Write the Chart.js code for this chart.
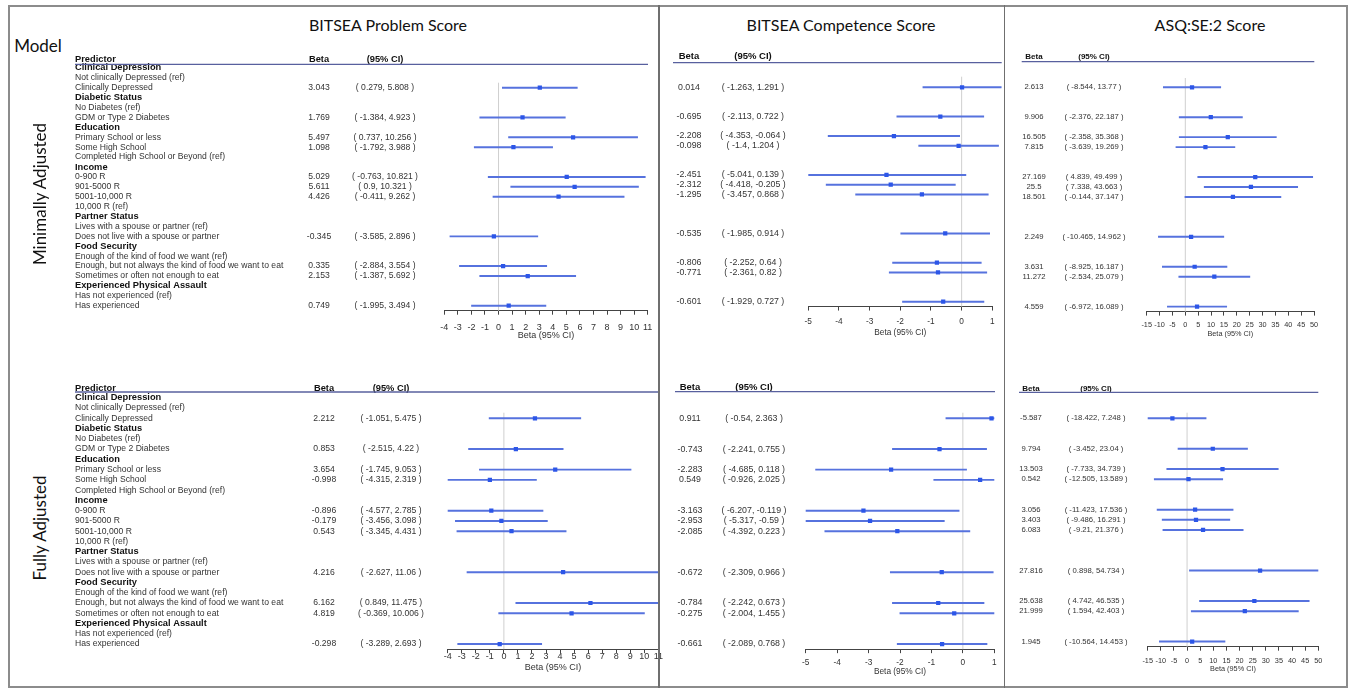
<!DOCTYPE html>
<html>
<head>
<meta charset="utf-8">
<script src="https://cdn.jsdelivr.net/npm/chart.js@4.4.1/dist/chart.umd.min.js"></script>
<style>
  body { margin: 0; background: #fff; }
  #page { position: relative; width: 1352px; height: 689px; overflow: hidden; background: #fff; }
  canvas { position: absolute; }
  .frame { position: absolute; left: 8px; top: 5px; width: 1340px; height: 683px; border: 2px solid #8c8c8c; box-sizing: border-box; }
  .sep { position: absolute; top: 5px; height: 683px; width: 1.5px; background: #6f6f6f; }
  .title { position: absolute; font-family: Lato, "Open Sans", sans-serif; font-size: 16px; color: #111; transform: translate(-50%, -50%); white-space: nowrap; }
  .side { position: absolute; font-family: Lato, "Open Sans", sans-serif; font-size: 17px; color: #111; transform: translate(-50%, -50%) rotate(-90deg); white-space: nowrap; }
</style>
</head>
<body>
<div id="page">
  <div class="title" style="left:388px; top:24px">BITSEA Problem Score</div>
  <div class="title" style="left:841px; top:24px">BITSEA Competence Score</div>
  <div class="title" style="left:1210px; top:24px">ASQ:SE:2 Score</div>
  <div class="side" style="left:38px; top:45px; transform: translate(-50%, -50%)">Model</div>
  <div class="side" style="left:39px; top:194px">Minimally Adjusted</div>
  <div class="side" style="left:39px; top:528px">Fully Adjusted</div>
</div>
<script>
// rows of the predictor table (same in every panel)
const rowLabels = [
  "Clinical Depression", "Not clinically Depressed (ref)", "Clinically Depressed",
  "Diabetic Status", "No Diabetes (ref)", "GDM or Type 2 Diabetes",
  "Education", "Primary School or less", "Some High School", "Completed High School or Beyond (ref)",
  "Income", "0-900 R", "901-5000 R", "5001-10,000 R", "10,000 R (ref)",
  "Partner Status", "Lives with a spouse or partner (ref)", "Does not live with a spouse or partner",
  "Food Security", "Enough of the kind of food we want (ref)",
  "Enough, but not always the kind of food we want to eat", "Sometimes or often not enough to eat",
  "Experienced Physical Assault", "Has not experienced (ref)", "Has experienced"
];
const groupHeaders = ["Clinical Depression", "Diabetic Status", "Education", "Income",
  "Partner Status", "Food Security", "Experienced Physical Assault"];
const estimateRows = ["Clinically Depressed", "GDM or Type 2 Diabetes", "Primary School or less",
  "Some High School", "0-900 R", "901-5000 R", "5001-10,000 R",
  "Does not live with a spouse or partner",
  "Enough, but not always the kind of food we want to eat",
  "Sometimes or often not enough to eat", "Has experienced"];

// Minimally adjusted
const probMinBeta = [3.043, 1.769, 5.497, 1.098, 5.029, 5.611, 4.426, -0.345, 0.335, 2.153, 0.749];
const probMinLow = [0.279, -1.384, 0.737, -1.792, -0.763, 0.9, -0.411, -3.585, -2.884, -1.387, -1.995];
const probMinHigh = [5.808, 4.923, 10.256, 3.988, 10.821, 10.321, 9.262, 2.896, 3.554, 5.692, 3.494];

const compMinBeta = [0.014, -0.695, -2.208, -0.098, -2.451, -2.312, -1.295, -0.535, -0.806, -0.771, -0.601];
const compMinLow = [-1.263, -2.113, -4.353, -1.4, -5.041, -4.418, -3.457, -1.985, -2.252, -2.361, -1.929];
const compMinHigh = [1.291, 0.722, -0.064, 1.204, 0.139, -0.205, 0.868, 0.914, 0.64, 0.82, 0.727];

const asqMinBeta = [2.613, 9.906, 16.505, 7.815, 27.169, 25.5, 18.501, 2.249, 3.631, 11.272, 4.559];
const asqMinLow = [-8.544, -2.376, -2.358, -3.639, 4.839, 7.338, -0.144, -10.465, -8.925, -2.534, -6.972];
const asqMinHigh = [13.77, 22.187, 35.368, 19.269, 49.499, 43.663, 37.147, 14.962, 16.187, 25.079, 16.089];

// Fully adjusted
const probFullBeta = [2.212, 0.853, 3.654, -0.998, -0.896, -0.179, 0.543, 4.216, 6.162, 4.819, -0.298];
const probFullLow = [-1.051, -2.515, -1.745, -4.315, -4.577, -3.456, -3.345, -2.627, 0.849, -0.369, -3.289];
const probFullHigh = [5.475, 4.22, 9.053, 2.319, 2.785, 3.098, 4.431, 11.06, 11.475, 10.006, 2.693];

const compFullBeta = [0.911, -0.743, -2.283, 0.549, -3.163, -2.953, -2.085, -0.672, -0.784, -0.275, -0.661];
const compFullLow = [-0.54, -2.241, -4.685, -0.926, -6.207, -5.317, -4.392, -2.309, -2.242, -2.004, -2.089];
const compFullHigh = [2.363, 0.755, 0.118, 2.025, -0.119, -0.59, 0.223, 0.966, 0.673, 1.455, 0.768];

const asqFullBeta = [-5.587, 9.794, 13.503, 0.542, 3.056, 3.403, 6.083, 27.816, 25.638, 21.999, 1.945];
const asqFullLow = [-18.422, -3.452, -7.733, -12.505, -11.423, -9.486, -9.21, 0.898, 4.742, 1.594, -10.564];
const asqFullHigh = [7.248, 23.04, 34.739, 13.589, 17.536, 16.291, 21.376, 54.734, 46.535, 42.403, 14.453];

const FONT = "'Liberation Sans', Arial, sans-serif";
const LINE_COLOR = "rgb(86,114,222)";
const POINT_COLOR = "rgb(44,86,232)";

// page layout of the six panels (page pixel coordinates)
const panels = [
  { beta: probMinBeta, low: probMinLow, high: probMinHigh, labels: true,
    canvas: [70, 40, 660], area: [444.3, 647.7], row0: 67.9, gap: 9.91,
    tickY: 327.3, titleY: 336, min: -4, max: 11, step: 1,
    betaX: 319, ciX: 385, headY: 59.3, lineY: 64.3, line: [75, 648], zeroTop: 82.7,
    size: { bold: 9.3, text: 8.6, axis: 9 }, clipRight: 0 },
  { beta: compMinBeta, low: compMinLow, high: compMinHigh, labels: false,
    canvas: [658, 40, 1004], area: [808.3, 992.3], row0: 67.8, gap: 9.745,
    tickY: 321.7, titleY: 332.7, min: -5, max: 1, step: 1,
    betaX: 689, ciX: 753, headY: 56.7, lineY: 62.7, line: [673, 1001.7], zeroTop: 76.7,
    size: { bold: 9.5, text: 8.8, axis: 8.3 }, clipRight: 12 },
  { beta: asqMinBeta, low: asqMinLow, high: asqMinHigh, labels: false,
    canvas: [1004, 40, 1348], area: [1146.7, 1314], row0: 67.35, gap: 9.97,
    tickY: 325, titleY: 333.3, min: -15, max: 50, step: 5,
    betaX: 1034, ciX: 1094, headY: 56.7, lineY: 61.7, line: [1021.7, 1314.3], zeroTop: 78,
    size: { bold: 8, text: 7.7, axis: 7.3 }, clipRight: 0 },
  { beta: probFullBeta, low: probFullLow, high: probFullHigh, labels: true,
    canvas: [70, 370, 672], area: [447.7, 658.4], row0: 397.8, gap: 10.26,
    tickY: 656.7, titleY: 667.7, min: -4, max: 11, step: 1,
    betaX: 324, ciX: 391, headY: 388, lineY: 392, line: [75, 658], zeroTop: 412.7,
    size: { bold: 9.3, text: 8.6, axis: 9 }, clipRight: 0 },
  { beta: compFullBeta, low: compFullLow, high: compFullHigh, labels: false,
    canvas: [658, 370, 1004], area: [805.7, 994.3], row0: 397.8, gap: 10.26,
    tickY: 662.7, titleY: 672.3, min: -5, max: 1, step: 1,
    betaX: 690, ciX: 754, headY: 387.3, lineY: 391.7, line: [675, 995], zeroTop: 412.7,
    size: { bold: 9.5, text: 8.8, axis: 8.3 }, clipRight: 0 },
  { beta: asqFullBeta, low: asqFullLow, high: asqFullHigh, labels: false,
    canvas: [1004, 370, 1348], area: [1147.7, 1318.3], row0: 398, gap: 10.15,
    tickY: 660.7, titleY: 668.3, min: -15, max: 50, step: 5,
    betaX: 1031, ciX: 1096, headY: 388.3, lineY: 392.3, line: [1019, 1318.3], zeroTop: 412.7,
    size: { bold: 8, text: 7.7, axis: 7.3 }, clipRight: 0 },
];

const page = document.getElementById("page");

function buildPanel(p) {
  const cL = p.canvas[0], cT = p.canvas[1], cW = p.canvas[2] - cL;
  const axisLH = p.size.axis * 1.2;
  const cH = Math.round(p.titleY + axisLH / 2 - cT);
  const top = p.row0 - p.gap / 2;
  const bottom = top + rowLabels.length * p.gap;
  const padL = p.labels ? 75 - cL : 0;
  const yW = p.area[0] - cL - padL;
  const padR = cL + cW - p.area[1];
  const padT = top - cT;
  const xH = cT + cH - bottom;
  const tickPad = p.tickY - bottom - 4 - axisLH / 2;

  // full-length arrays, one entry per table row
  const ciData = rowLabels.map((r) => {
    const i = estimateRows.indexOf(r);
    return i < 0 ? null : [p.low[i], p.high[i]];
  });
  const betaData = rowLabels.map((r) => {
    const i = estimateRows.indexOf(r);
    return i < 0 ? null : p.beta[i];
  });

  const canvas = document.createElement("canvas");
  canvas.width = cW;
  canvas.height = cH;
  canvas.style.left = cL + "px";
  canvas.style.top = cT + "px";
  page.insertBefore(canvas, page.firstChild);

  // zero line, header and Beta / CI columns
  const tablePlugin = {
    id: "forestTable",
    beforeDatasetsDraw(chart) {
      const { ctx, chartArea, scales: { x } } = chart;
      const px = x.getPixelForValue(0);
      ctx.save();
      ctx.strokeStyle = "#cfcfcf";
      ctx.lineWidth = 1;
      ctx.beginPath();
      ctx.moveTo(px, p.zeroTop - cT);
      ctx.lineTo(px, chartArea.bottom);
      ctx.stroke();
      ctx.restore();
    },
    afterDraw(chart) {
      const { ctx, scales: { y } } = chart;
      ctx.save();
      ctx.textBaseline = "middle";
      ctx.fillStyle = "#111";
      ctx.font = `bold ${p.size.bold}px ${FONT}`;
      if (p.labels) {
        ctx.textAlign = "left";
        ctx.fillText("Predictor", 75 - cL, p.headY - cT);
      }
      ctx.textAlign = "center";
      ctx.fillText("Beta", p.betaX - cL, p.headY - cT);
      ctx.fillText("(95% CI)", p.ciX - cL, p.headY - cT);

      ctx.strokeStyle = "rgb(88,96,158)";
      ctx.lineWidth = 1.3;
      ctx.beginPath();
      ctx.moveTo(p.line[0] - cL, p.lineY - cT);
      ctx.lineTo(p.line[1] - cL, p.lineY - cT);
      ctx.stroke();

      ctx.font = `${p.size.text}px ${FONT}`;
      ctx.fillStyle = "#333";
      estimateRows.forEach((r, i) => {
        const yy = y.getPixelForValue(rowLabels.indexOf(r));
        ctx.fillText(String(p.beta[i]), p.betaX - cL, yy);
        ctx.fillText(`( ${p.low[i]}, ${p.high[i]} )`, p.ciX - cL, yy);
      });
      ctx.restore();
    },
  };

  const clip = { left: 0, right: p.clipRight, top: 8, bottom: 8 };

  new Chart(canvas, {
    type: "bar",
    data: {
      labels: rowLabels,
      datasets: [
        {
          type: "line",
          data: betaData,
          showLine: false,
          pointStyle: "rect",
          pointRadius: 3,
          pointBorderWidth: 0,
          pointBackgroundColor: POINT_COLOR,
          clip: clip,
          order: 0,
        },
        {
          type: "bar",
          data: ciData,
          backgroundColor: LINE_COLOR,
          barThickness: 1.3,
          borderWidth: 0,
          borderSkipped: false,
          clip: clip,
          order: 1,
        },
      ],
    },
    options: {
      indexAxis: "y",
      responsive: false,
      animation: false,
      layout: { padding: { left: padL, right: padR, top: padT, bottom: 0 } },
      plugins: {
        legend: { display: false },
        tooltip: { enabled: false },
      },
      scales: {
        y: {
          type: "category",
          offset: true,
          grid: { display: false },
          border: { display: false },
          afterFit: (scale) => { scale.width = yW; },
          ticks: {
            display: p.labels,
            autoSkip: false,
            crossAlign: "far",
            padding: 0,
            color: (c) => groupHeaders.includes(rowLabels[c.index]) ? "#111" : "#333",
            font: (c) => groupHeaders.includes(rowLabels[c.index])
              ? { family: FONT, size: p.size.bold, weight: "bold" }
              : { family: FONT, size: p.size.text, weight: "normal" },
          },
        },
        x: {
          type: "linear",
          min: p.min,
          max: p.max,
          afterFit: (scale) => { scale.height = xH; },
          grid: { drawOnChartArea: false, drawTicks: true, tickLength: 4, color: "#444" },
          border: { display: true, color: "#444", width: 1 },
          ticks: {
            stepSize: p.step,
            autoSkip: false,
            maxRotation: 0,
            padding: tickPad,
            color: "#333",
            font: { family: FONT, size: p.size.axis },
          },
          title: {
            display: true,
            text: "Beta (95% CI)",
            color: "#333",
            padding: 0,
            font: { family: FONT, size: p.size.axis },
          },
        },
      },
    },
    plugins: [tablePlugin],
  });
}

panels.forEach(buildPanel);

// frame and panel separators on top
const frame = document.createElement("div");
frame.className = "frame";
page.appendChild(frame);
[658, 1003.5].forEach((x) => {
  const s = document.createElement("div");
  s.className = "sep";
  s.style.left = x + "px";
  page.appendChild(s);
});
</script>
</body>
</html>
